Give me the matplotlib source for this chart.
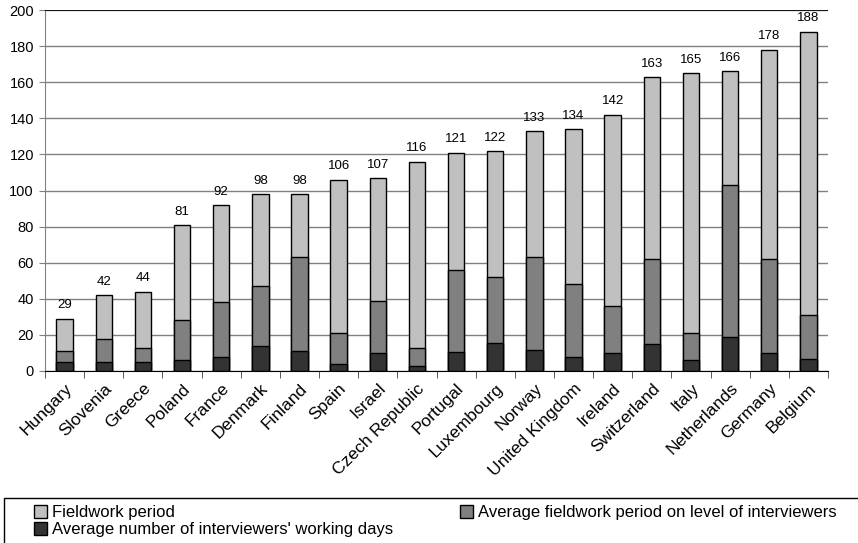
import numpy as np
import matplotlib
matplotlib.use("Agg")
import matplotlib.pyplot as plt
from matplotlib.patches import Rectangle

plt.rcParams['font.family'] = ['Liberation Sans', 'DejaVu Sans']

countries = ["Hungary", "Slovenia", "Greece", "Poland", "France", "Denmark", "Finland",
             "Spain", "Israel", "Czech Republic", "Portugal", "Luxembourg", "Norway",
             "United Kingdom", "Ireland", "Switzerland", "Italy", "Netherlands",
             "Germany", "Belgium"]
fieldwork = [29, 42, 44, 81, 92, 98, 98, 106, 107, 116, 121, 122, 133, 134, 142, 163,
             165, 166, 178, 188]
avg_level = [11, 18, 13, 28, 38, 47, 63, 21, 39, 13, 56, 52, 63, 48, 36, 62, 21, 103,
             62, 31]
working_days = [5, 5, 5, 6, 8, 14, 11, 4, 10, 2.5, 10.5, 15.5, 11.5, 7.5, 10, 15, 6,
                19, 10, 6.5]

fig = plt.figure(figsize=(8.58, 5.43), dpi=100)
ax = fig.add_axes([45 / 858, 1 - 371 / 543, 783 / 858, 361 / 543])

x = np.arange(len(countries))
w = 0.42
b1 = ax.bar(x, fieldwork, w, color='#c0c0c0', edgecolor='black', linewidth=1, zorder=3)
b2 = ax.bar(x, avg_level, w, color='#808080', edgecolor='black', linewidth=1, zorder=4)
b3 = ax.bar(x, working_days, w, color='#333333', edgecolor='black', linewidth=1, zorder=5)

for xi, v in zip(x, fieldwork):
    ax.text(xi, v + 4, str(v), ha='center', va='bottom', fontsize=9.5)

ax.set_xlim(-0.5, len(countries) - 0.5)
ax.set_ylim(0, 200)
ax.set_yticks(range(0, 201, 20))
ax.tick_params(axis='y', labelsize=10.5, length=4, color='#808080', pad=4)
ax.yaxis.grid(True, color='#808080', linewidth=1)
ax.axhline(200, color='black', linewidth=1.2, zorder=6)
ax.set_axisbelow(True)

ax.set_xticks(x)
ax.set_xticklabels(countries, rotation=45, ha='right', rotation_mode='anchor', fontsize=12.5)
ax.tick_params(axis='x', which='major', length=0, pad=7)
ax.set_xticks(np.arange(-0.5, len(countries)), minor=True)
ax.tick_params(axis='x', which='minor', length=5, color='#404040')

ax.spines['right'].set_visible(False)
ax.spines['top'].set_visible(False)
ax.spines['left'].set_color('#808080')
ax.spines['bottom'].set_color('black')
ax.spines['bottom'].set_zorder(6)

# legend box across the bottom of the figure
fig.patches.append(Rectangle((4 / 858, -0.01), 1.0, (543 - 498) / 543 + 0.01,
                             transform=fig.transFigure, fill=False,
                             edgecolor='black', linewidth=1))
leg = fig.legend([b1, b3, b2],
                 ["Fieldwork period", "Average number of interviewers' working days",
                  "Average fieldwork period on level of interviewers"],
                 loc='upper left', bbox_to_anchor=(34 / 858, 1 - 505 / 543),
                 ncol=2, fontsize=12, frameon=False,
                 handlelength=0.8, handleheight=0.8, handletextpad=0.3,
                 labelspacing=0.1, borderpad=0, borderaxespad=0, columnspacing=4.0)

fig.savefig("out.png", dpi=100)
